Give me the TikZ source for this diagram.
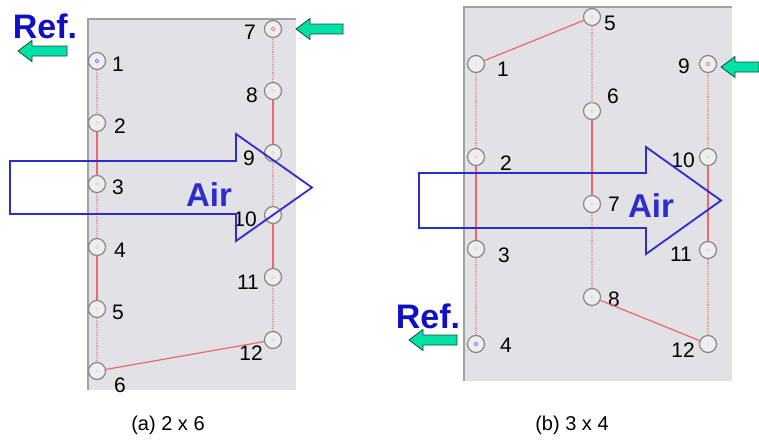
\documentclass[tikz,border=0pt]{standalone}
\usepackage{fontspec}
\setmainfont{Liberation Sans}
\usetikzlibrary{positioning}

\definecolor{panelgray}{RGB}{225,225,230}
\definecolor{edgegray}{RGB}{160,160,165}
\definecolor{ringgray}{RGB}{135,135,135}
\definecolor{airblue}{RGB}{45,45,205}
\definecolor{refblue}{RGB}{15,15,200}
\definecolor{mint}{RGB}{0,225,165}
\definecolor{mintedge}{RGB}{30,70,55}
\definecolor{tubered}{RGB}{235,105,105}
\definecolor{tubepink}{RGB}{240,150,150}

\begin{document}
\begin{tikzpicture}[
    x=1pt, y=-1pt,
    tube/.style={circle, draw=ringgray, line width=1.2pt,
                 fill=panelgray!55!white, minimum size=17pt, inner sep=0pt,
                 path picture={\draw[gray!35, line width=0.5pt]
                   (path picture bounding box.center) circle (1.6pt);}},
    tubein/.style={tube, path picture={\draw[blue!55, line width=0.7pt]
                   (path picture bounding box.center) circle (1.8pt);}},
    tubeout/.style={tube, path picture={\draw[red!55, line width=0.7pt]
                   (path picture bounding box.center) circle (1.8pt);}},
    num/.style={font=\fontsize{21}{21}\selectfont, inner sep=0pt},
    caption/.style={font=\fontsize{20}{20}\selectfont, inner sep=0pt},
    airtext/.style={font=\fontsize{33}{33}\selectfont\bfseries,
                    text=airblue, inner sep=0pt},
    reftext/.style={font=\fontsize{34}{34}\selectfont\bfseries,
                    text=refblue, inner sep=0pt},
    link/.style={draw=tubered, line width=1.2pt},
    linkdot/.style={draw=tubepink, line width=1.1pt, densely dotted},
    airarrow/.style={draw=airblue, line width=1.8pt, line join=miter},
    panel/.style={fill=panelgray},
    garrow/.pic={\draw[fill=mint, draw=mintedge, line width=0.8pt]
                 (0,0) -- (14,-10.5) -- (14,-5) -- (#1,-5) -- (#1,5)
                 -- (14,5) -- (14,10.5) -- cycle;}
  ]
  \useasboundingbox (0,0) rectangle (759,442);

  % (a) 2 x 6 panel
  \fill[panel] (87,18) rectangle (296,390);
  \draw[edgegray, line width=1.6pt] (88,390) -- (88,19) -- (296,19);

  \node[tubein]  (a1)  at (97,61)  {};
  \node[tube]    (a2)  at (97,123) {};
  \node[tube]    (a3)  at (97,184) {};
  \node[tube]    (a4)  at (97,247) {};
  \node[tube]    (a5)  at (97,309) {};
  \node[tube]    (a6)  at (97,371) {};
  \node[tubeout] (a7)  at (273,29)  {};
  \node[tube]    (a8)  at (273,91)  {};
  \node[tube]    (a9)  at (273,153) {};
  \node[tube]    (a10) at (273,215) {};
  \node[tube]    (a11) at (273,277) {};
  \node[tube]    (a12) at (273,340) {};

  \node[num] (na1)  at (118,64)  {1};
  \node[num] (na2)  at (120,126) {2};
  \node[num] (na3)  at (118,187) {3};
  \node[num] (na4)  at (120,250) {4};
  \node[num] (na5)  at (118,312) {5};
  \node[num] (na6)  at (120,385) {6};
  \node[num] (na7)  at (250,32)  {7};
  \node[num] (na8)  at (252,95)  {8};
  \node[num] (na9)  at (249,158) {9};
  \node[num] (na10) at (245,219) {10};
  \node[num] (na11) at (248,282) {11};
  \node[num] (na12) at (251,353) {12};

  % tube circuit (a)
  \draw[linkdot] (a1)  -- (a2);
  \draw[link]    (a2)  -- (a3);
  \draw[linkdot] (a3)  -- (a4);
  \draw[link]    (a4)  -- (a5);
  \draw[linkdot] (a5)  -- (a6);
  \draw[link]    (a6)  -- (a12);
  \draw[linkdot] (a12) -- (a11);
  \draw[link]    (a11) -- (a10);
  \draw[linkdot] (a10) -- (a9);
  \draw[link]    (a9)  -- (a8);
  \draw[linkdot] (a8)  -- (a7);

  \node[reftext] (refa) at (45,26) {Ref.};
  \pic at (18,51) {garrow=49};
  \pic at (296,29) {garrow=47};

  \draw[airarrow] (10,161) -- (236,161) -- (236,134) -- (312,187.5)
                  -- (236,241) -- (236,214) -- (10,214) -- cycle;
  \node[airtext] (aira) at (209,195) {Air};

  \node[caption] (capa) at (168,425) {(a) 2 x 6};

  % (b) 3 x 4 panel
  \fill[panel] (463,6) rectangle (732,381);
  \draw[edgegray, line width=1.6pt] (464,381) -- (464,7) -- (732,7);

  \node[tube]    (b1)  at (476,64)  {};
  \node[tube]    (b2)  at (476,157) {};
  \node[tube]    (b3)  at (476,249) {};
  \node[tubein]  (b4)  at (476,344) {};
  \node[tube]    (b5)  at (592,17)  {};
  \node[tube]    (b6)  at (592,111) {};
  \node[tube]    (b7)  at (592,204) {};
  \node[tube]    (b8)  at (592,297) {};
  \node[tubeout] (b9)  at (708,64)  {};
  \node[tube]    (b10) at (708,157) {};
  \node[tube]    (b11) at (708,250) {};
  \node[tube]    (b12) at (708,344) {};

  \node[num] (nb1)  at (503,69)  {1};
  \node[num] (nb2)  at (506,163) {2};
  \node[num] (nb3)  at (504,255) {3};
  \node[num] (nb4)  at (506,345) {4};
  \node[num] (nb5)  at (610,23)  {5};
  \node[num] (nb6)  at (613,96)  {6};
  \node[num] (nb7)  at (614,204) {7};
  \node[num] (nb8)  at (614,299) {8};
  \node[num] (nb9)  at (684,66)  {9};
  \node[num] (nb10) at (683,160) {10};
  \node[num] (nb11) at (681,254) {11};
  \node[num] (nb12) at (683,350) {12};

  % tube circuit (b)
  \draw[link]    (b5)  -- (b1);
  \draw[linkdot] (b1)  -- (b2);
  \draw[link]    (b2)  -- (b3);
  \draw[linkdot] (b3)  -- (b4);
  \draw[linkdot] (b5)  -- (b6);
  \draw[link]    (b6)  -- (b7);
  \draw[linkdot] (b7)  -- (b8);
  \draw[link]    (b8)  -- (b12);
  \draw[linkdot] (b12) -- (b11);
  \draw[link]    (b11) -- (b10);
  \draw[linkdot] (b10) -- (b9);

  \node[reftext] (refb) at (428,316) {Ref.};
  \pic at (409,340) {garrow=48};
  \pic at (721,67) {garrow=38};

  \draw[airarrow] (419,173) -- (646,173) -- (646,147) -- (721,200.5)
                  -- (646,254) -- (646,228) -- (419,228) -- cycle;
  \node[airtext] (airb) at (651,206) {Air};

  \node[caption] (capb) at (572,425) {(b) 3 x 4};
\end{tikzpicture}
\end{document}
